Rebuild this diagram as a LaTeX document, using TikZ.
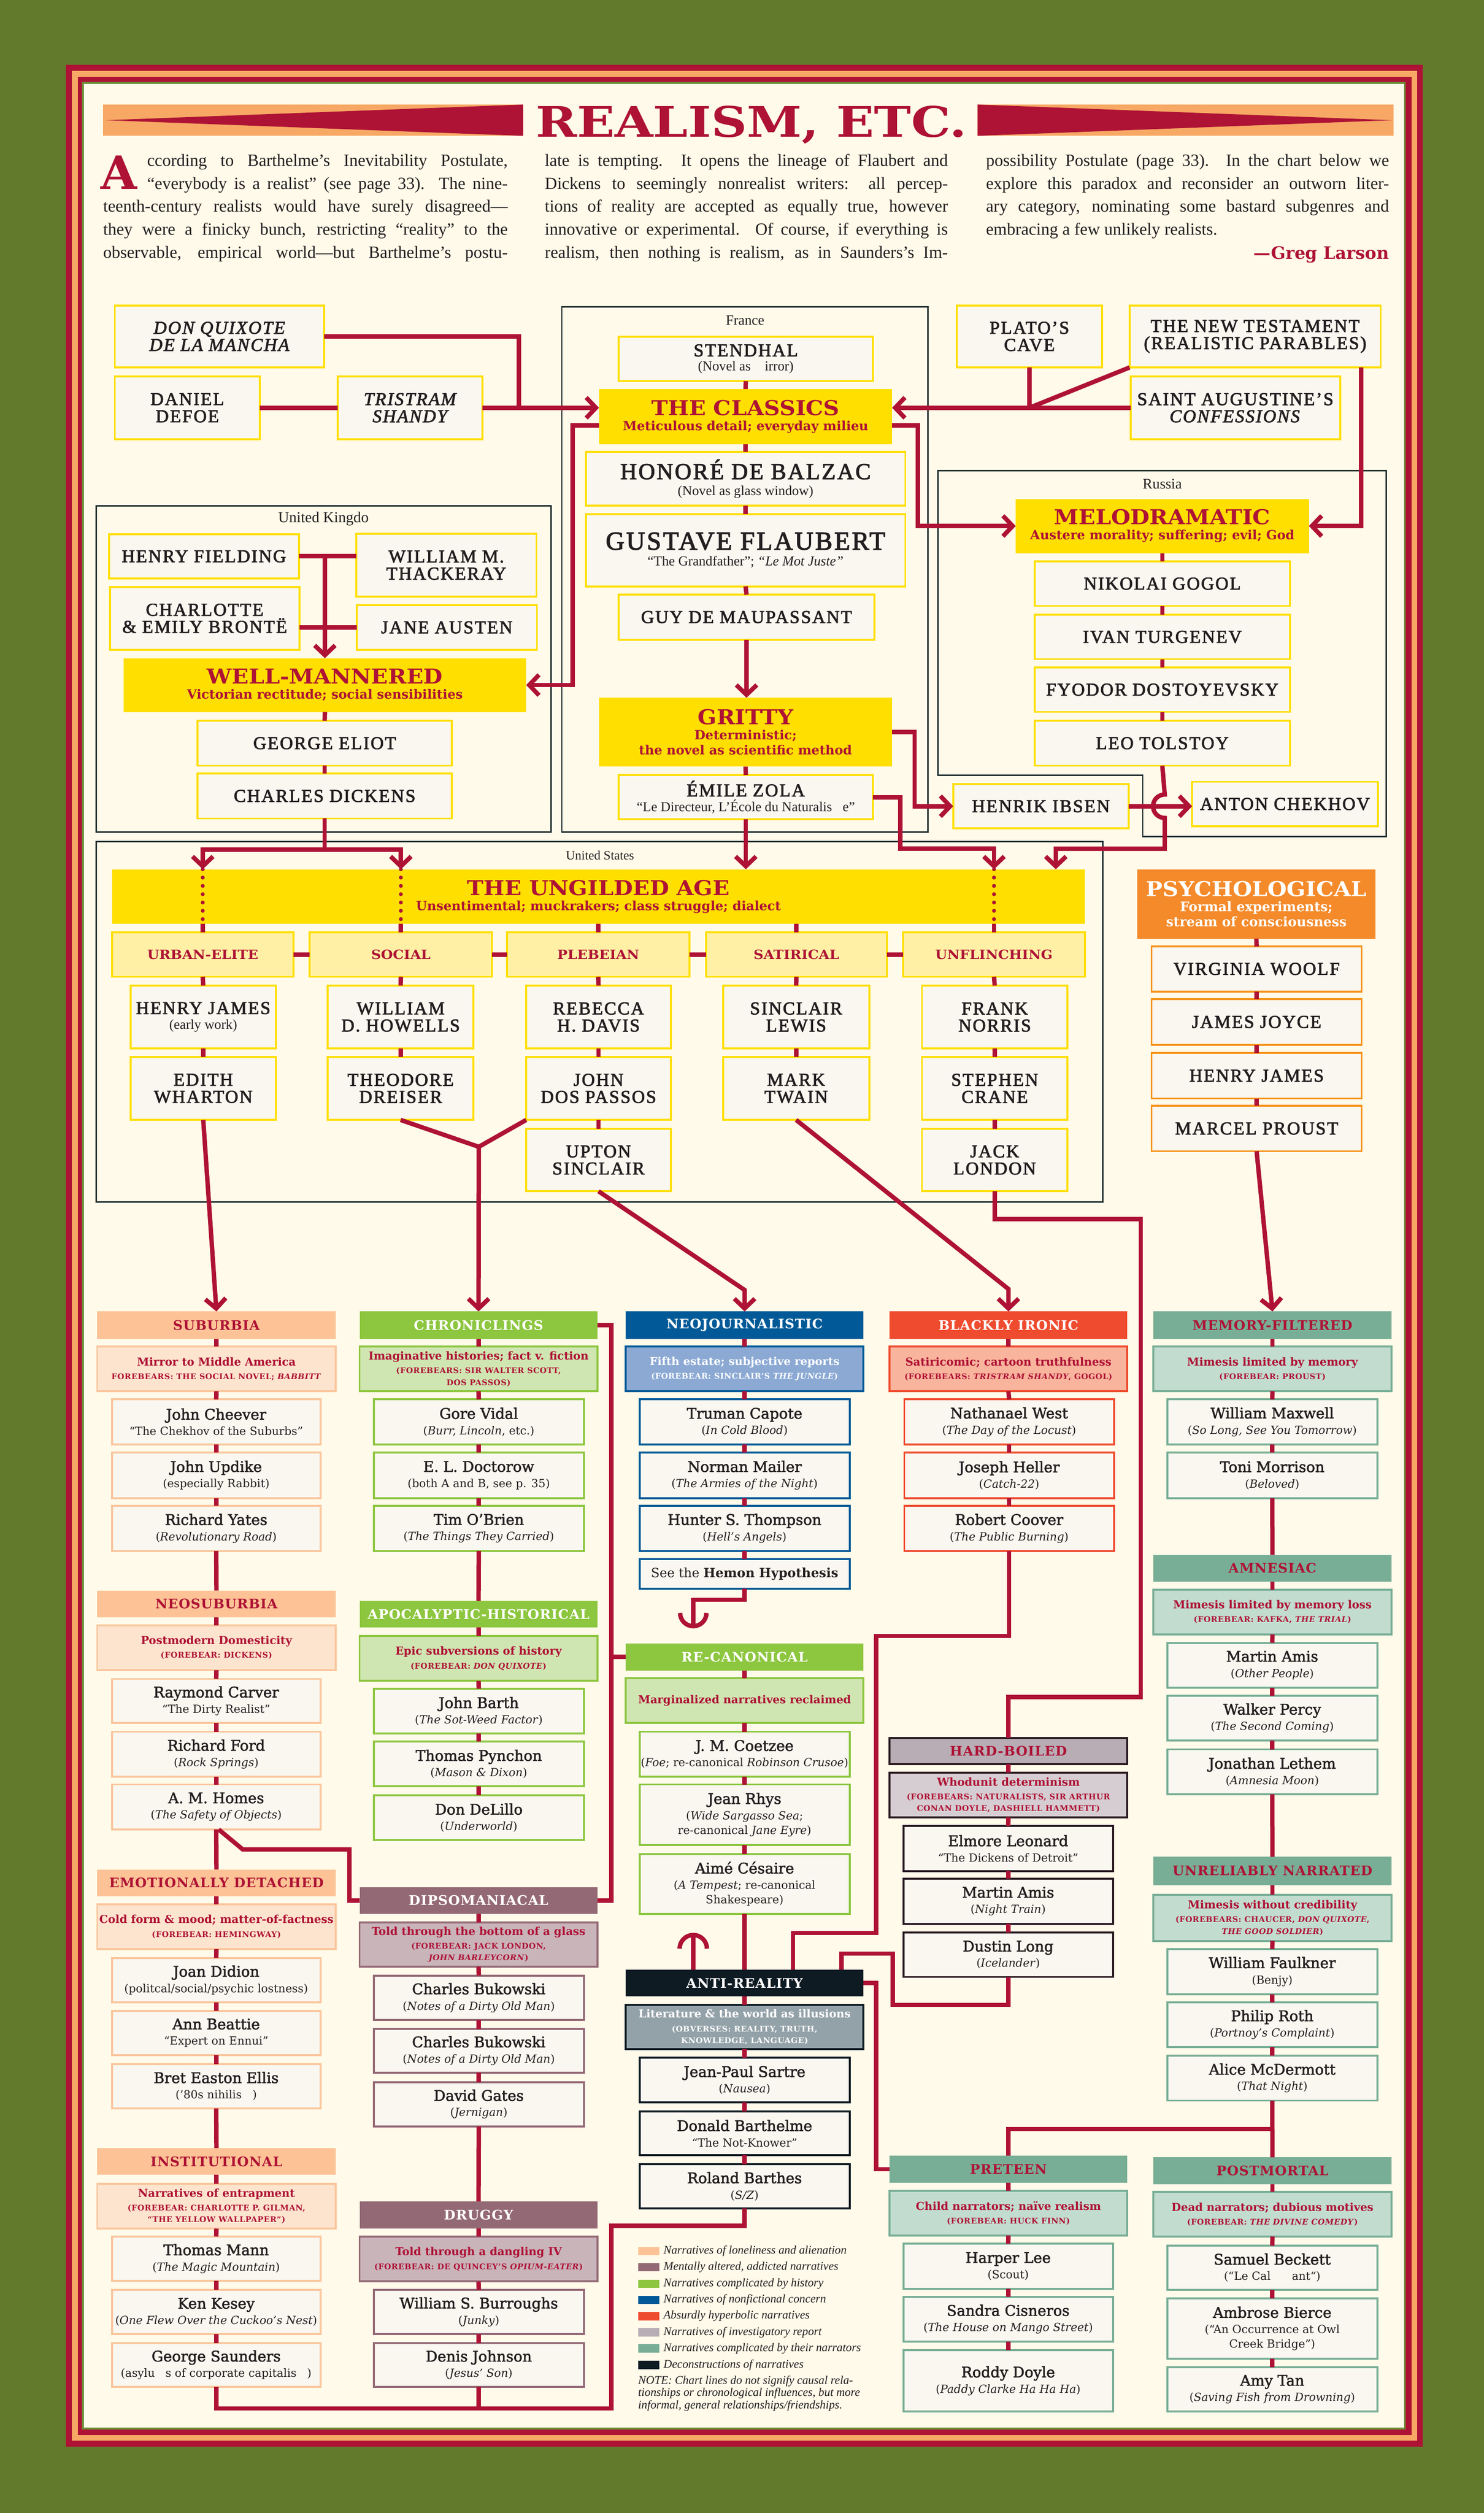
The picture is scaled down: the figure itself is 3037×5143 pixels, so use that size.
\documentclass[tikz,border=0pt]{standalone}
\usepackage{fontspec}
\usepackage{graphicx}
\usetikzlibrary{arrows.meta}
\setmainfont{Liberation Serif}
\newfontfamily\capf[LetterSpace=7.0,FakeBold=2.5]{Liberation Serif}
\newfontfamily\hdf{DejaVu Serif}
\newfontfamily\hdwide[FakeStretch=1.08]{DejaVu Serif}
\newfontfamily\lowhd[FakeStretch=1.01,LetterSpace=4.0]{DejaVu Serif}
\newfontfamily\namef{DejaVu Serif}
\newfontfamily\nameb[FakeBold=2.0]{DejaVu Serif}
\newcommand\fsz[2]{\fontsize{#1}{#2}\selectfont}
\newcommand\sm[1]{{\lowhd\fsz{16}{20}#1}}
\newcommand\sbt[1]{{\namef\fsz{23}{30}#1}}
\newcommand\tsub[1]{{\rmfamily\fsz{28}{30}#1}}
\newcommand\ttl[1]{{\hdwide\fsz{42}{42}#1}}
\newcommand\mybox[7]{\node[#2, minimum width={(#5)-(#3)}, minimum height={(#6)-(#4)}] (#1) at ({((#3)+(#5))/2},{((#4)+(#6))/2}) {#7};}
\newcommand\il[4]{\node[anchor=base west, inner sep=0, text=ink, font=\fsz{35}{47}] (#1) at (#2) {\makebox[#3pt][s]{#4}};}

\definecolor{bggreen}{HTML}{627A2C}
\definecolor{olive}{HTML}{6E8A35}
\definecolor{cream}{HTML}{FFFAE9}
\definecolor{crim}{HTML}{AE1235}
\definecolor{orng}{HTML}{F7A864}
\definecolor{ylw}{HTML}{FFDF00}
\definecolor{ylwlt}{HTML}{FFF0A6}
\definecolor{offw}{HTML}{F9F7F0}
\definecolor{ink}{HTML}{231F20}
\definecolor{regln}{HTML}{1F2D2D}
\definecolor{psy}{HTML}{F48A2A}
\definecolor{psyb}{HTML}{F7941D}
\definecolor{peach}{HTML}{FDC396}
\definecolor{peachlt}{HTML}{FDE4CE}
\definecolor{peachbd}{HTML}{FAC69D}
\definecolor{grn}{HTML}{8DC63F}
\definecolor{grnlt}{HTML}{D0E6B2}
\definecolor{mauve}{HTML}{946976}
\definecolor{mauvelt}{HTML}{C9B4BA}
\definecolor{blu}{HTML}{015A97}
\definecolor{blult}{HTML}{8BA9D3}
\definecolor{orr}{HTML}{EF4B2E}
\definecolor{orrlt}{HTML}{F8B49D}
\definecolor{hb}{HTML}{B8ADB5}
\definecolor{hblt}{HTML}{D6CDD2}
\definecolor{hbd}{HTML}{2B1B22}
\definecolor{teal}{HTML}{78AE96}
\definecolor{teallt}{HTML}{C2DCCF}
\definecolor{blk}{HTML}{0F1B23}
\definecolor{gry}{HTML}{93A1A8}

\tikzset{
 conn/.style={draw=crim, line width=9pt},
 arr/.style={conn, -{Straight Barb[length=20pt,width=42pt]}},
 dotl/.style={draw=crim, line width=8pt, line cap=round, dash pattern=on 0pt off 17pt},
 region/.style={draw=regln, line width=3pt},
 rlabel/.style={inner sep=0, text=ink},
 bx/.style={inner sep=0pt, outer sep=0pt, align=center},
 topauth/.style={bx, draw=ylw, fill=offw, line width=4pt, text=ink, font=\capf\fsz{37}{35}},
 psyauth/.style={topauth, draw=psyb},
 ybig/.style={bx, fill=ylw, text=crim, font=\hdf\bfseries\fsz{26}{31}},
 cat/.style={bx, draw=ylw, fill=ylwlt, line width=4pt, text=crim, font=\hdwide\bfseries\fsz{26}{30}},
 lh/.style={bx, font=\lowhd\bfseries\fsz{27}{30}},
 ls/.style={bx, line width=4pt, font=\hdf\bfseries\fsz{22.5}{28}, text=crim},
 la/.style={bx, fill=offw, line width=4pt, text=ink, font=\nameb\fsz{30}{32}},
 sw/.style={inner sep=0, minimum width=44, minimum height=17},
 lgt/.style={anchor=west, inner sep=0, text=ink, font=\itshape\fsz{24}{26}}
}

\begin{document}
\begin{tikzpicture}[x=1pt,y=-1pt]
\useasboundingbox (0,0) rectangle (3037,5143);
% frame
\fill[bggreen] (0,0) rectangle (3037,5143);
\fill[crim] (135,133) rectangle (2912,5007);
\fill[orng] (147,145) rectangle (2901,4995);
\fill[crim] (159,157) rectangle (2889,4983);
\fill[olive] (168,168) rectangle (2877,4972);
\fill[cream] (172,172) rectangle (2874,4968);

% title
\fill[orng] (211,214) rectangle (1071,278);
\fill[crim] (1071,214) -- (1071,278) -- (217,246) -- cycle;
\fill[orng] (2001,214) rectangle (2852,278);
\fill[crim] (2001,214) -- (2001,278) -- (2849,246) -- cycle;
\node[anchor=base, inner sep=0, text=crim] (title) at (1538,280) {\scalebox{1.18}[1]{\hdf\bfseries\fsz{86}{90}REALISM, ETC.}};

% intro
\node[anchor=base west, inner sep=0, text=crim] (dropA) at (206,387) {\scalebox{1.02}[1]{\hdf\bfseries\fsz{94}{94}A}};
\il{a1}{301,340}{738}{ccording to Barthelme’s Inevitability Postulate,}
\il{a2}{301,387}{738}{“everybody is a realist” (see page 33). The nine-}
\il{a3}{211,434}{828}{teenth-century realists would have surely disagreed—}
\il{a4}{211,481}{828}{they were a finicky bunch, restricting “reality” to the}
\il{a5}{211,528}{828}{observable, empirical world—but Barthelme’s postu-}
\il{b1}{1115,340}{825}{late is tempting. It opens the lineage of Flaubert and}
\il{b2}{1115,387}{825}{Dickens to seemingly nonrealist writers: all percep-}
\il{b3}{1115,434}{825}{tions of reality are accepted as equally true, however}
\il{b4}{1115,481}{825}{innovative or experimental. Of course, if everything is}
\il{b5}{1115,528}{825}{realism, then nothing is realism, as in Saunders’s Im-}
\il{c1}{2018,340}{825}{possibility Postulate (page 33). In the chart below we}
\il{c2}{2018,387}{825}{explore this paradox and reconsider an outworn liter-}
\il{c3}{2018,434}{825}{ary category, nominating some bastard subgenres and}
\node[anchor=base west, inner sep=0, text=ink, font=\fsz{35}{47}] (c4) at (2018,481) {embracing a few unlikely realists.};
\node[anchor=base east, inner sep=0, text=crim, font=\hdf\bfseries\fsz{35}{36}] (greg) at (2843,530) {—Greg Larson};

% regions
\draw[region] (1150,628) rectangle (1899,1703);
\draw[region] (197,1035) rectangle (1128,1703);
\draw[region] (1920,963) -- (2837,963) -- (2837,1712) -- (2339,1712) -- (2339,1587) -- (1920,1587) -- cycle;
\draw[region] (197,1722) rectangle (2257,2460);
\node[rlabel, font=\fsz{29}{30}] (lfr) at (1525,656) {France};
\node[rlabel, font=\fsz{31}{32}] (luk) at (662,1062) {United Kingdo};
\node[rlabel, font=\fsz{30}{32}] (lru) at (2379,990) {Russia};
\node[rlabel, font=\fsz{26}{28}] (lus) at (1228,1750) {United States};

% top nodes
\mybox{donq}{topauth}{235}{625}{663}{752}{\itshape DON QUIXOTE\\\itshape DE LA MANCHA}
\mybox{defoe}{topauth}{235}{770}{532}{899}{DANIEL\\DEFOE}
\mybox{tristram}{topauth}{691}{770}{987}{899}{\itshape TRISTRAM\\\itshape SHANDY}
\mybox{plato}{topauth}{1958}{625}{2256}{752}{PLATO’S\\CAVE}
\mybox{newtest}{topauth}{2312}{625}{2826}{752}{THE NEW TESTAMENT\\(REALISTIC PARABLES)}
\mybox{august}{topauth}{2314}{770}{2743}{899}{SAINT AUGUSTINE’S\\\textit{CONFESSIONS}}
\mybox{stendhal}{topauth}{1266}{689}{1787}{780}{STENDHAL\\[-6pt]\tsub{(Novel as \hphantom{m}irror)}}
\mybox{classics}{ybig}{1226}{796}{1826}{909}{\ttl{THE CLASSICS}\\Meticulous detail; everyday milieu}
\mybox{balzac}{topauth}{1199}{925}{1853}{1035}{{\fsz{47}{40}HONORÉ DE BALZAC}\\[-2pt]\tsub{(Novel as glass window)}}
\mybox{flaubert}{topauth}{1199}{1052}{1853}{1200}{{\fsz{53}{44}GUSTAVE FLAUBERT}\\[-2pt]\tsub{“The Grandfather”; \textit{“Le Mot Juste”}}}
\mybox{maupassant}{topauth}{1266}{1217}{1790}{1309}{GUY DE MAUPASSANT}
\mybox{gritty}{ybig}{1226}{1428}{1826}{1569}{\ttl{GRITTY}\\Deterministic;\\the novel as scientific method}
\mybox{zola}{topauth}{1266}{1586}{1787}{1677}{ÉMILE ZOLA\\[-4pt]\tsub{“Le Directeur, L’École du Naturalis\hphantom{m}e”}}
\mybox{fielding}{topauth}{223}{1093}{612}{1184}{HENRY FIELDING}
\mybox{thackeray}{topauth}{729}{1092}{1098}{1221}{WILLIAM M.\\THACKERAY}
\mybox{bronte}{topauth}{225}{1201}{613}{1330}{CHARLOTTE\\\& EMILY BRONTË}
\mybox{austen}{topauth}{730}{1238}{1099}{1330}{JANE AUSTEN}
\mybox{wellm}{ybig}{253}{1347}{1077}{1457}{\ttl{WELL-MANNERED}\\Victorian rectitude; social sensibilities}
\mybox{eliot}{topauth}{404}{1475}{925}{1567}{GEORGE ELIOT}
\mybox{dickens}{topauth}{404}{1583}{925}{1675}{CHARLES DICKENS}
\mybox{melo}{ybig}{2079}{1021}{2679}{1132}{\ttl{MELODRAMATIC}\\Austere morality; suffering; evil; God}
\mybox{gogol}{topauth}{2118}{1149}{2640}{1240}{NIKOLAI GOGOL}
\mybox{turgenev}{topauth}{2118}{1258}{2640}{1349}{IVAN TURGENEV}
\mybox{dostoy}{topauth}{2118}{1366}{2640}{1457}{FYODOR DOSTOYEVSKY}
\mybox{tolstoy}{topauth}{2118}{1475}{2640}{1567}{LEO TOLSTOY}
\mybox{ibsen}{topauth}{1951}{1605}{2310}{1695}{HENRIK IBSEN}
\mybox{chekhov}{topauth}{2440}{1600}{2820}{1691}{ANTON CHEKHOV}

% ungilded
\mybox{ungilded}{ybig}{229}{1779}{2221}{1891}{\ttl{THE UNGILDED AGE}\\Unsentimental; muckrakers; class struggle; dialect}
\mybox{urban}{cat}{229}{1908}{601}{1999}{URBAN-ELITE}
\mybox{social}{cat}{634}{1908}{1007}{1999}{SOCIAL}
\mybox{plebeian}{cat}{1038}{1908}{1411}{1999}{PLEBEIAN}
\mybox{satirical}{cat}{1445}{1908}{1815}{1999}{SATIRICAL}
\mybox{unflinch}{cat}{1848}{1908}{2221}{1999}{UNFLINCHING}
\mybox{hjames}{topauth}{267}{2017}{565}{2146}{HENRY JAMES\\[-4pt]\tsub{(early work)}}
\mybox{wharton}{topauth}{267}{2163}{565}{2292}{EDITH\\WHARTON}
\mybox{howells}{topauth}{671}{2017}{969}{2146}{WILLIAM\\D. HOWELLS}
\mybox{dreiser}{topauth}{671}{2163}{969}{2292}{THEODORE\\DREISER}
\mybox{davis}{topauth}{1077}{2017}{1373}{2146}{REBECCA\\H. DAVIS}
\mybox{dospassos}{topauth}{1077}{2163}{1373}{2292}{JOHN\\DOS PASSOS}
\mybox{sinclair}{topauth}{1077}{2310}{1373}{2438}{UPTON\\SINCLAIR}
\mybox{lewis}{topauth}{1480}{2017}{1779}{2146}{SINCLAIR\\LEWIS}
\mybox{twain}{topauth}{1480}{2163}{1779}{2292}{MARK\\TWAIN}
\mybox{norris}{topauth}{1887}{2017}{2185}{2146}{FRANK\\NORRIS}
\mybox{crane}{topauth}{1887}{2163}{2185}{2292}{STEPHEN\\CRANE}
\mybox{london}{topauth}{1887}{2310}{2185}{2438}{JACK\\LONDON}
\mybox{psych}{ybig, fill=psy, text=white}{2328}{1779}{2815}{1921}{\ttl{PSYCHOLOGICAL}\\{\fsz{27}{33}Formal experiments;}\\{\fsz{27}{33}stream of consciousness}}
\mybox{woolf}{psyauth}{2357}{1937}{2787}{2029}{VIRGINIA WOOLF}
\mybox{joyce}{psyauth}{2357}{2045}{2787}{2138}{JAMES JOYCE}
\mybox{hjames2}{psyauth}{2357}{2155}{2787}{2248}{HENRY JAMES}
\mybox{proust}{psyauth}{2357}{2263}{2787}{2356}{MARCEL PROUST}

% ---------- lower: column A
\mybox{subur}{lh, fill=peach, text=crim}{199}{2684}{687}{2740}{SUBURBIA}
\mybox{suburS}{ls, fill=peachlt, draw=peachbd}{199}{2756}{687}{2847}{Mirror to Middle America\\\sm{FOREBEARS: THE SOCIAL NOVEL; \textit{BABBITT}}}
\mybox{cheever}{la, draw=peachbd}{229}{2864}{656}{2956}{John Cheever\\\sbt{“The Chekhov of the Suburbs”}}
\mybox{updike}{la, draw=peachbd}{229}{2973}{656}{3066}{John Updike\\\sbt{(especially Rabbit)}}
\mybox{yates}{la, draw=peachbd}{229}{3082}{656}{3174}{Richard Yates\\\sbt{(\textit{Revolutionary Road})}}
\mybox{neosub}{lh, fill=peach, text=crim}{199}{3255}{687}{3310}{NEOSUBURBIA}
\mybox{neosubS}{ls, fill=peachlt, draw=peachbd}{199}{3326}{687}{3418}{Postmodern Domesticity\\\sm{(FOREBEAR: DICKENS)}}
\mybox{carver}{la, draw=peachbd}{229}{3436}{656}{3526}{Raymond Carver\\\sbt{“The Dirty Realist”}}
\mybox{ford}{la, draw=peachbd}{229}{3544}{656}{3636}{Richard Ford\\\sbt{(\textit{Rock Springs})}}
\mybox{homes}{la, draw=peachbd}{229}{3652}{656}{3744}{A. M. Homes\\\sbt{(\textit{The Safety of Objects})}}
\mybox{emo}{lh, fill=peach, text=crim}{199}{3826}{687}{3881}{EMOTIONALLY DETACHED}
\mybox{emoS}{ls, fill=peachlt, draw=peachbd}{199}{3897}{687}{3989}{Cold form \& mood; matter-of-factness\\\sm{(FOREBEAR: HEMINGWAY)}}
\mybox{didion}{la, draw=peachbd}{229}{4007}{656}{4098}{Joan Didion\\\sbt{(politcal/social/psychic lostness)}}
\mybox{beattie}{la, draw=peachbd}{229}{4115}{656}{4206}{Ann Beattie\\\sbt{“Expert on Ennui”}}
\mybox{ellis}{la, draw=peachbd}{229}{4224}{656}{4315}{Bret Easton Ellis\\\sbt{(’80s nihilis\hphantom{m})}}
\mybox{inst}{lh, fill=peach, text=crim}{199}{4396}{687}{4451}{INSTITUTIONAL}
\mybox{instS}{ls, fill=peachlt, draw=peachbd}{199}{4469}{687}{4561}{Narratives of entrapment\\\sm{(FOREBEAR: CHARLOTTE P. GILMAN,}\\[-4pt]\sm{“THE YELLOW WALLPAPER”)}}
\mybox{mann}{la, draw=peachbd}{229}{4577}{656}{4668}{Thomas Mann\\\sbt{(\textit{The Magic Mountain})}}
\mybox{kesey}{la, draw=peachbd}{229}{4686}{656}{4777}{Ken Kesey\\\sbt{(\textit{One Flew Over the Cuckoo’s Nest})}}
\mybox{saunders}{la, draw=peachbd}{229}{4795}{656}{4885}{George Saunders\\\sbt{(asylu\hphantom{m}s of corporate capitalis\hphantom{m})}}

% column B
\mybox{chron}{lh, fill=grn, text=white}{736}{2684}{1223}{2740}{CHRONICLINGS}
\mybox{chronS}{ls, fill=grnlt, draw=grn}{736}{2756}{1223}{2847}{Imaginative histories; fact v. fiction\\\sm{(FOREBEARS: SIR WALTER SCOTT,}\\[-4pt]\sm{DOS PASSOS)}}
\mybox{vidal}{la, draw=grn}{765}{2864}{1195}{2956}{Gore Vidal\\\sbt{(\textit{Burr, Lincoln}, etc.)}}
\mybox{doctorow}{la, draw=grn}{765}{2973}{1195}{3066}{E. L. Doctorow\\\sbt{(both A and B, see p. 35)}}
\mybox{obrien}{la, draw=grn}{765}{3082}{1195}{3174}{Tim O’Brien\\\sbt{(\textit{The Things They Carried})}}
\mybox{apoc}{lh, fill=grn, text=white}{736}{3276}{1223}{3331}{APOCALYPTIC-HISTORICAL}
\mybox{apocS}{ls, fill=grnlt, draw=grn}{736}{3348}{1223}{3440}{Epic subversions of history\\\sm{(FOREBEAR: \textit{DON QUIXOTE})}}
\mybox{barth}{la, draw=grn}{765}{3456}{1195}{3548}{John Barth\\\sbt{(\textit{The Sot-Weed Factor})}}
\mybox{pynchon}{la, draw=grn}{765}{3564}{1195}{3656}{Thomas Pynchon\\\sbt{(\textit{Mason \& Dixon})}}
\mybox{delillo}{la, draw=grn}{765}{3674}{1195}{3766}{Don DeLillo\\\sbt{(\textit{Underworld})}}
\mybox{dipso}{lh, fill=mauve, text=white}{736}{3862}{1223}{3917}{DIPSOMANIACAL}
\mybox{dipsoS}{ls, fill=mauvelt, draw=mauve}{736}{3934}{1223}{4025}{Told through the bottom of a glass\\\sm{(FOREBEAR: JACK LONDON,}\\[-4pt]\sm{\textit{JOHN BARLEYCORN})}}
\mybox{bukA}{la, draw=mauve}{765}{4043}{1195}{4134}{Charles Bukowski\\\sbt{(\textit{Notes of a Dirty Old Man})}}
\mybox{bukB}{la, draw=mauve}{765}{4152}{1195}{4242}{Charles Bukowski\\\sbt{(\textit{Notes of a Dirty Old Man})}}
\mybox{gates}{la, draw=mauve}{765}{4261}{1195}{4352}{David Gates\\\sbt{(\textit{Jernigan})}}
\mybox{drug}{lh, fill=mauve, text=white}{736}{4505}{1223}{4561}{DRUGGY}
\mybox{drugS}{ls, fill=mauvelt, draw=mauve}{736}{4577}{1223}{4669}{Told through a dangling IV\\\sm{(FOREBEAR: DE QUINCEY’S \textit{OPIUM-EATER})}}
\mybox{burroughs}{la, draw=mauve}{765}{4686}{1195}{4777}{William S. Burroughs\\\sbt{(\textit{Junky})}}
\mybox{djohnson}{la, draw=mauve}{765}{4795}{1195}{4885}{Denis Johnson\\\sbt{(\textit{Jesus’ Son})}}

% column C
\mybox{neoj}{lh, fill=blu, text=white}{1281}{2684}{1767}{2740}{NEOJOURNALISTIC}
\mybox{neojS}{ls, fill=blult, draw=blu, text=white}{1281}{2756}{1767}{2847}{Fifth estate; subjective reports\\\sm{(FOREBEAR: SINCLAIR’S \textit{THE JUNGLE})}}
\mybox{capote}{la, draw=blu}{1309}{2864}{1739}{2956}{Truman Capote\\\sbt{(\textit{In Cold Blood})}}
\mybox{mailer}{la, draw=blu}{1309}{2973}{1739}{3066}{Norman Mailer\\\sbt{(\textit{The Armies of the Night})}}
\mybox{hst}{la, draw=blu}{1309}{3082}{1739}{3174}{Hunter S. Thompson\\\sbt{(\textit{Hell’s Angels})}}
\mybox{hemon}{la, draw=blu}{1309}{3191}{1739}{3251}{{\namef\fsz{26}{30}See the \textbf{Hemon Hypothesis}}}
\mybox{recan}{lh, fill=grn, text=white}{1281}{3363}{1767}{3419}{RE-CANONICAL}
\mybox{recanS}{ls, fill=grnlt, draw=grn}{1281}{3434}{1767}{3526}{Marginalized narratives reclaimed}
\mybox{coetzee}{la, draw=grn}{1309}{3544}{1739}{3636}{J. M. Coetzee\\\sbt{(\textit{Foe}; re-canonical \textit{Robinson Crusoe})}}
\mybox{rhys}{la, draw=grn}{1309}{3652}{1739}{3776}{Jean Rhys\\\sbt{(\textit{Wide Sargasso Sea};}\\[-2pt]\sbt{re-canonical \textit{Jane Eyre})}}
\mybox{cesaire}{la, draw=grn}{1309}{3794}{1739}{3917}{Aimé Césaire\\\sbt{(\textit{A Tempest}; re-canonical}\\[-2pt]\sbt{Shakespeare)}}
\mybox{anti}{lh, fill=blk, text=white}{1281}{4031}{1767}{4086}{ANTI-REALITY}
\mybox{antiS}{ls, fill=gry, draw=blk, text=white}{1281}{4103}{1767}{4194}{Literature \& the world as illusions\\\sm{(OBVERSES: REALITY, TRUTH,}\\[-4pt]\sm{KNOWLEDGE, LANGUAGE)}}
\mybox{sartre}{la, draw=blk}{1309}{4211}{1739}{4303}{Jean-Paul Sartre\\\sbt{(\textit{Nausea})}}
\mybox{barthelme}{la, draw=blk}{1309}{4321}{1739}{4411}{Donald Barthelme\\\sbt{“The Not-Knower”}}
\mybox{barthes}{la, draw=blk}{1309}{4429}{1739}{4520}{Roland Barthes\\\sbt{(\textit{S/Z})}}

% column D
\mybox{blackir}{lh, fill=orr, text=white}{1821}{2684}{2307}{2740}{BLACKLY IRONIC}
\mybox{blackS}{ls, fill=orrlt, draw=orr}{1821}{2756}{2307}{2847}{Satiricomic; cartoon truthfulness\\\sm{(FOREBEARS: \textit{TRISTRAM SHANDY}, GOGOL)}}
\mybox{nwest}{la, draw=orr}{1851}{2864}{2280}{2956}{Nathanael West\\\sbt{(\textit{The Day of the Locust})}}
\mybox{heller}{la, draw=orr}{1851}{2973}{2280}{3066}{Joseph Heller\\\sbt{(\textit{Catch-22})}}
\mybox{coover}{la, draw=orr}{1851}{3082}{2280}{3174}{Robert Coover\\\sbt{(\textit{The Public Burning})}}
\mybox{hard}{lh, fill=hb, draw=hbd, line width=4pt, text=crim}{1821}{3557}{2307}{3610}{HARD-BOILED}
\mybox{hardS}{ls, fill=hblt, draw=hbd}{1821}{3628}{2307}{3719}{Whodunit determinism\\\sm{(FOREBEARS: NATURALISTS, SIR ARTHUR}\\[-4pt]\sm{CONAN DOYLE, DASHIELL HAMMETT)}}
\mybox{leonard}{la, draw=hbd}{1849}{3737}{2278}{3829}{Elmore Leonard\\\sbt{“The Dickens of Detroit”}}
\mybox{amisA}{la, draw=hbd}{1849}{3845}{2278}{3937}{Martin Amis\\\sbt{(\textit{Night Train})}}
\mybox{dlong}{la, draw=hbd}{1849}{3955}{2278}{4046}{Dustin Long\\\sbt{(\textit{Icelander})}}
\mybox{pre}{lh, fill=teal, text=crim}{1821}{4412}{2307}{4467}{PRETEEN}
\mybox{preS}{ls, fill=teallt, draw=teal}{1821}{4484}{2307}{4575}{Child narrators; naïve realism\\\sm{(FOREBEAR: HUCK FINN)}}
\mybox{lee}{la, draw=teal}{1849}{4592}{2278}{4684}{Harper Lee\\\sbt{(Scout)}}
\mybox{cisneros}{la, draw=teal}{1849}{4701}{2278}{4792}{Sandra Cisneros\\\sbt{(\textit{The House on Mango Street})}}
\mybox{doyle}{la, draw=teal}{1849}{4810}{2278}{4935}{Roddy Doyle\\\sbt{(\textit{Paddy Clarke Ha Ha Ha})}}

% column E
\mybox{mem}{lh, fill=teal, text=crim}{2361}{2684}{2848}{2740}{MEMORY-FILTERED}
\mybox{memS}{ls, fill=teallt, draw=teal}{2361}{2756}{2848}{2847}{Mimesis limited by memory\\\sm{(FOREBEAR: PROUST)}}
\mybox{maxwell}{la, draw=teal}{2389}{2864}{2819}{2956}{William Maxwell\\\sbt{(\textit{So Long, See You Tomorrow})}}
\mybox{morrison}{la, draw=teal}{2389}{2973}{2819}{3066}{Toni Morrison\\\sbt{(\textit{Beloved})}}
\mybox{amn}{lh, fill=teal, text=crim}{2361}{3182}{2848}{3237}{AMNESIAC}
\mybox{amnS}{ls, fill=teallt, draw=teal}{2361}{3253}{2848}{3345}{Mimesis limited by memory loss\\\sm{(FOREBEAR: KAFKA, \textit{THE TRIAL})}}
\mybox{amisB}{la, draw=teal}{2389}{3362}{2819}{3454}{Martin Amis\\\sbt{(\textit{Other People})}}
\mybox{percy}{la, draw=teal}{2389}{3470}{2819}{3562}{Walker Percy\\\sbt{(\textit{The Second Coming})}}
\mybox{lethem}{la, draw=teal}{2389}{3580}{2819}{3672}{Jonathan Lethem\\\sbt{(\textit{Amnesia Moon})}}
\mybox{unrel}{lh, fill=teal, text=crim}{2361}{3800}{2848}{3858}{UNRELIABLY NARRATED}
\mybox{unrelS}{ls, fill=teallt, draw=teal}{2361}{3878}{2848}{3972}{Mimesis without credibility\\\sm{(FOREBEARS: CHAUCER, \textit{DON QUIXOTE},}\\[-4pt]\sm{\textit{THE GOOD SOLDIER})}}
\mybox{faulkner}{la, draw=teal}{2389}{3989}{2819}{4081}{William Faulkner\\\sbt{(Benjy)}}
\mybox{roth}{la, draw=teal}{2389}{4098}{2819}{4189}{Philip Roth\\\sbt{(\textit{Portnoy’s Complaint})}}
\mybox{mcdermott}{la, draw=teal}{2389}{4207}{2819}{4299}{Alice McDermott\\\sbt{(\textit{That Night})}}
\mybox{post}{lh, fill=teal, text=crim}{2361}{4415}{2848}{4470}{POSTMORTAL}
\mybox{postS}{ls, fill=teallt, draw=teal}{2361}{4486}{2848}{4577}{Dead narrators; dubious motives\\\sm{(FOREBEAR: \textit{THE DIVINE COMEDY})}}
\mybox{beckett}{la, draw=teal}{2389}{4596}{2819}{4686}{Samuel Beckett\\\sbt{(“Le Cal\hphantom{mm}ant“)}}
\mybox{bierce}{la, draw=teal}{2389}{4704}{2819}{4827}{Ambrose Bierce\\\sbt{(“An Occurrence at Owl}\\[-2pt]\sbt{Creek Bridge”)}}
\mybox{amytan}{la, draw=teal}{2389}{4845}{2819}{4935}{Amy Tan\\\sbt{(\textit{Saving Fish from Drowning})}}

% legend
\node[sw, fill=peach] (g1) at (1328,4607) {};
\node[sw, fill=mauve] (g2) at (1328,4640) {};
\node[sw, fill=grn] (g3) at (1328,4674) {};
\node[sw, fill=blu] (g4) at (1328,4707) {};
\node[sw, fill=orr] (g5) at (1328,4740) {};
\node[sw, fill=hb] (g6) at (1328,4773) {};
\node[sw, fill=teal] (g7) at (1328,4806) {};
\node[sw, fill=blk] (g8) at (1328,4840) {};
\node[lgt] (t1) at (1358,4607) {Narratives of loneliness and alienation};
\node[lgt] (t2) at (1358,4640) {Mentally altered, addicted narratives};
\node[lgt] (t3) at (1358,4674) {Narratives complicated by history};
\node[lgt] (t4) at (1358,4707) {Narratives of nonfictional concern};
\node[lgt] (t5) at (1358,4740) {Absurdly hyperbolic narratives};
\node[lgt] (t6) at (1358,4773) {Narratives of investigatory report};
\node[lgt] (t7) at (1358,4806) {Narratives complicated by their narrators};
\node[lgt] (t8) at (1358,4840) {Deconstructions of narratives};
\node[anchor=north west, inner sep=0, align=left, text=ink, font=\itshape\fsz{24}{25}] (note) at (1306,4862) {NOTE: Chart lines do not signify causal rela-\\tionships or chronological influences, but more\\informal, general relationships/friendships.};

% ---------- connectors: top
\draw[conn] (donq.east) -| (1062,834.5);
\draw[conn] (defoe.east) -- (tristram.west);
\draw[arr] (tristram.east) -- (classics.west |- tristram.east);
\draw[arr] (august.west) -- (classics.east |- august.west);
\draw[conn] (plato.south) -- (plato.south |- august.west);
\draw[conn] (newtest.south west) -- (plato.south |- august.west);
\draw[arr] ([xshift=-40pt]newtest.south east) |- (melo.east);
\draw[arr] ([yshift=-18pt]classics.east) -| (1879,1000) |- (melo.west);
\draw[arr] ([yshift=-18pt]classics.west) -| (1172,1402) -- (wellm.east);
\foreach \a/\b in {stendhal/classics, classics/balzac, balzac/flaubert, flaubert/maupassant, gritty/zola, wellm/eliot, eliot/dickens, melo/gogol, gogol/turgenev, turgenev/dostoy, dostoy/tolstoy, psych/woolf, woolf/joyce, joyce/hjames2, hjames2/proust}
  \draw[conn] (\a.south) -- (\b.north);
\draw[arr] (maupassant.south) -- (maupassant.south |- gritty.north);
\draw[conn] (fielding.east) -- (thackeray.west |- fielding.east);
\draw[conn] (bronte.east |- austen.west) -- (austen.west);
\coordinate (jfk) at (665,1138.5);
\draw[arr] (jfk) -- (wellm.north);
\draw[arr] (gritty.east) -| (1872,1600) |- (ibsen.west);
\draw[arr] (ibsen.east) -- (chekhov.west |- ibsen.east);
\draw[arr] (tolstoy.south) -- (2384,1626) arc[start angle=270, end angle=90, radius=24] -- (2384,1737) -| ([xshift=936pt]ungilded.north);
\draw[arr] (zola.east) -| (1843,1737) -| (ungilded.north -| unflinch.north);
\draw[arr] (zola.south) -- (zola.south |- ungilded.north);
\coordinate (jd) at (664.5,1739);
\draw[conn] (dickens.south) -- (jd);
\draw[arr] (jd) -| (ungilded.north -| urban.north);
\draw[arr] (jd) -| (ungilded.north -| social.north);
\foreach \c in {urban, social, unflinch}
  \draw[dotl] (ungilded.north -| \c.north) -- (ungilded.south -| \c.north);
\foreach \c in {urban, social, plebeian, satirical, unflinch}
  \draw[conn] (ungilded.south -| \c.north) -- (\c.north);
\foreach \a/\b in {urban/social, social/plebeian, plebeian/satirical, satirical/unflinch}
  \draw[conn] (\a.east) -- (\b.west);
\foreach \a/\b in {urban/hjames, hjames/wharton, social/howells, howells/dreiser, plebeian/davis, davis/dospassos, dospassos/sinclair, satirical/lewis, lewis/twain, unflinch/norris, norris/crane, crane/london}
  \draw[conn] (\a.south) -- (\b.north);

% ---------- connectors: bottom
\draw[arr] (wharton.south) -- (subur.north);
\coordinate (jc) at (980,2347);
\draw[conn] (dreiser.south) -- (jc);
\draw[conn] (dospassos.south west) -- (jc);
\draw[arr] (jc) -- (chron.north);
\draw[arr] (sinclair.south) -- (1524,2640) -- (neoj.north);
\draw[arr] (twain.south) -- (2064,2638) -- (blackir.north);
\draw[arr] (proust.south) -- (mem.north);
\draw[conn] (london.south) |- (2335,2495) |- (2064,3473) -- (hard.north);
\foreach \a/\b in {subur/suburS, suburS/cheever, cheever/updike, updike/yates, yates/neosub, neosub/neosubS, neosubS/carver, carver/ford, ford/homes, homes/emo, emo/emoS, emoS/didion, didion/beattie, beattie/ellis, ellis/inst, inst/instS, instS/mann, mann/kesey, kesey/saunders,
  chron/chronS, chronS/vidal, vidal/doctorow, doctorow/obrien, obrien/apoc, apoc/apocS, apocS/barth, barth/pynchon, pynchon/delillo,
  dipso/dipsoS, dipsoS/bukA, bukA/bukB, bukB/gates, gates/drug, drug/drugS, drugS/burroughs, burroughs/djohnson,
  neoj/neojS, neojS/capote, capote/mailer, mailer/hst, hst/hemon,
  recan/recanS, recanS/coetzee, coetzee/rhys, rhys/cesaire, cesaire/anti, anti/antiS, antiS/sartre, sartre/barthelme, barthelme/barthes,
  blackir/blackS, blackS/nwest, nwest/heller, heller/coover,
  hard/hardS, hardS/leonard, leonard/amisA, amisA/dlong,
  pre/preS, preS/lee, lee/cisneros, cisneros/doyle,
  mem/memS, memS/maxwell, maxwell/morrison, morrison/amn, amn/amnS, amnS/amisB, amisB/percy, percy/lethem, lethem/unrel, unrel/unrelS, unrelS/faulkner, faulkner/roth, roth/mcdermott, mcdermott/post, post/postS, postS/beckett, beckett/bierce, bierce/amytan}
  \draw[conn] (\a.south) -- (\b.north);
\draw[conn] (chron.east) -| (1251,3889.5) -- (dipso.east);
\coordinate (jr) at (1251,3391);
\draw[conn] (jr) -- (recan.west);
\draw[conn] ([xshift=5pt]homes.south) -- (497,3785) -| (715,3889.5) -- (dipso.west);
\draw[conn] (saunders.south) |- (1251,4929) |- (1524,4555) -- (barthes.south);
\draw[conn] (djohnson.south) -- ++(0,44);
\draw[conn] (hemon.south) -- (1524,3274) -| (1419,3328);
\draw[conn] (1392,3301) arc[start angle=180, end angle=0, radius=27];
\draw[conn] (1391,3988) arc[start angle=180, end angle=360, radius=28];
\draw[conn] (1419,3960) -- ([xshift=-105pt]anti.north);
\draw[conn] (coover.south) |- (1793,3348) |- (1623,3956) -- ([xshift=99pt]anti.north);
\draw[conn] (dlong.south) |- (1827,4103) |- (1722,3998) -- ([xshift=198pt]anti.north);
\draw[conn] (anti.east) -| (1793,4439.5) -- (pre.west);
\draw[conn] (pre.north) |- (2604,4357);
\end{tikzpicture}
\end{document}
